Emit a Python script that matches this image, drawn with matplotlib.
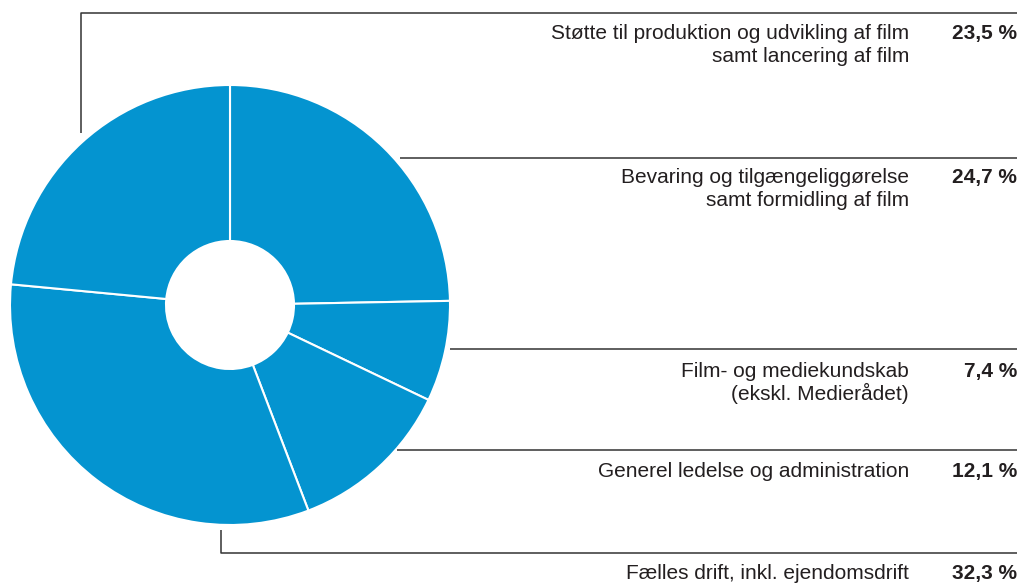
import matplotlib
matplotlib.use("Agg")
import matplotlib.pyplot as plt

# Daten (Reihenfolge im Uhrzeigersinn ab 12 Uhr)
categories = [
    ["Bevaring og tilgængeliggørelse", "samt formidling af film"],
    ["Film- og mediekundskab", "(ekskl. Medierådet)"],
    ["Generel ledelse og administration"],
    ["Fælles drift, inkl. ejendomsdrift"],
    ["Støtte til produktion og udvikling af film", "samt lancering af film"],
]
shares = [24.7, 7.4, 12.1, 32.3, 23.5]
shareLabels = ["24,7 %", "7,4 %", "12,1 %", "32,3 %", "23,5 %"]

W, H = 1022, 584
blue = "#0494d0"
lineColor = "#333333"
textColor = "#231f20"
fontFamily = ["Liberation Sans", "DejaVu Sans"]
lineStep = 23


def py(y):
    # Pixel von oben -> Datenkoordinate von unten
    return H - y


fig = plt.figure(figsize=(W / 100, H / 100), dpi=100)
ax = fig.add_axes([0, 0, 1, 1])

ax.pie(
    shares,
    startangle=90,
    counterclock=False,
    center=(230, py(305)),
    radius=220,
    colors=[blue] * len(shares),
    wedgeprops=dict(width=156, edgecolor="white", linewidth=1.5),
)

ax.set_xlim(0, W)
ax.set_ylim(0, H)
ax.set_aspect("equal")
ax.axis("off")

# Hinweislinien (Pixel von oben) je Kategorie
leaders = [
    [(400, 158), (1017, 158)],
    [(450, 349), (1017, 349)],
    [(397, 450), (1017, 450)],
    [(221, 530), (221, 553), (1017, 553)],
    [(81, 133), (81, 13), (1017, 13)],
]
baselines = [183, 377, 477, 579, 39]

for pts, base, cat, lab in zip(leaders, baselines, categories, shareLabels):
    xs = [p[0] for p in pts]
    ys = [py(p[1]) for p in pts]
    ax.plot(xs, ys, color=lineColor, linewidth=1.1, solid_capstyle="butt")
    for i, line in enumerate(cat):
        ax.text(909, py(base + i * lineStep), line, ha="right", va="baseline",
                fontsize=15, family=fontFamily, color=textColor)
    ax.text(1017, py(base), lab, ha="right", va="baseline", fontsize=15,
            family=fontFamily, color=textColor, fontweight="bold")

fig.savefig("out.png", dpi=100)
